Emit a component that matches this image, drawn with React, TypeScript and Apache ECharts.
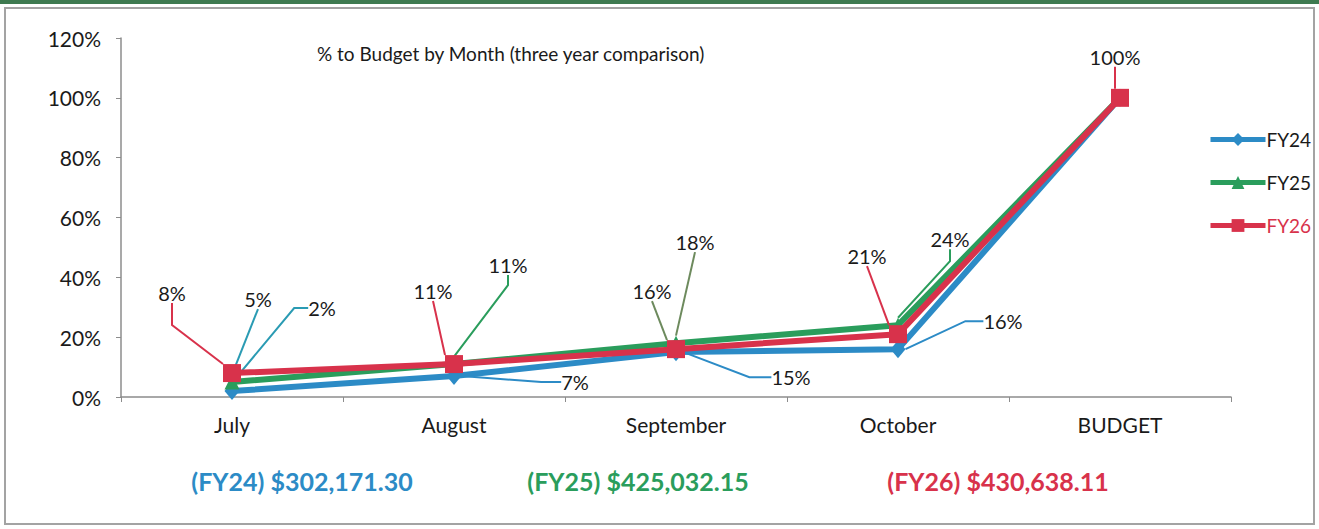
import React, { useEffect, useRef } from "react";
import * as echarts from "echarts";

const categories = ["July", "August", "September", "October", "BUDGET"];
const fy24 = [2, 7, 15, 16, 100];
const fy25 = [5, 11, 18, 24, 100];
const fy26 = [8, 11, 16, 21, 100];
const seriesNames = ["FY24", "FY25", "FY26"];
const yMin = 0;
const yMax = 120;
const yInterval = 20;
const chartTitle = "% to Budget by Month (three year comparison)";
const totals = ["(FY24) $302,171.30", "(FY25) $425,032.15", "(FY26) $430,638.11"];

const colors = ["#2c8bc6", "#2a9d5c", "#d8324b"];
// label offsets (dx, dy) from each point, null = hidden
const labelOffsets: (number[] | null)[][] = [
  [[90, -83], [121, 6], [115, 25], [105, -28], null],
  [[26, -83], [54, -99], [19, -101], [52, -86], null],
  [[-60, -80], [-21, -73], [-24, -58], [-31, -78], [-5, -41]],
];
const leaderColors = [
  ["#2a9bb3", "#2c8bc6", "#2c8bc6", "#2c8bc6", "#2c8bc6"],
  ["#2a9bb3", "#2a9d5c", "#6d8a5d", "#2a9d5c", "#2a9d5c"],
  ["#d8324b", "#d8324b", "#6d8a5d", "#d8324b", "#d8324b"],
];
const leaderLen2 = [
  [14, 20, 22, 18, 0],
  [0, 10, 0, 12, 0],
  [22, 0, 0, 0, 0],
];

const FONT = "Lato";

export default function App() {
  const ref = useRef<HTMLDivElement>(null);
  useEffect(() => {
    document.body.style.margin = "0";
    const chart = echarts.init(ref.current!, undefined, { renderer: "svg" });
    const all = [fy24, fy25, fy26];
    const symbols = ["diamond", "triangle", "rect"];
    const symbolSizes: any[] = [[15, 18], 15, 18];
    const series = all.map((vals, si) => ({
      name: seriesNames[si],
      type: "line",
      data: vals.map((v, i) => ({
        value: v,
        label: { show: labelOffsets[si][i] !== null },
        labelLine: {
          show: labelOffsets[si][i] !== null,
          length2: leaderLen2[si][i],
          lineStyle: { color: leaderColors[si][i], width: 2 },
        },
      })),
      symbol: symbols[si],
      symbolSize: symbolSizes[si],
      showAllSymbol: true,
      lineStyle: { width: 6, color: colors[si] },
      itemStyle: { color: colors[si] },
      label: {
        show: true,
        position: "inside",
        formatter: "{c}%",
        color: "#1a1a1a",
        fontFamily: FONT,
        fontSize: 20,
      },
      labelLine: { show: true, smooth: false },
      labelLayout: (p: any) => {
        const o = labelOffsets[p.seriesIndex][p.dataIndex];
        return o ? { dx: o[0], dy: o[1] } : {};
      },
      emphasis: { disabled: true },
      z: 2 + si,
    }));

    chart.setOption({
      animation: false,
      grid: { left: 121, right: 88, top: 38, bottom: 132 },
      title: {
        text: chartTitle,
        left: 312,
        top: 39,
        textStyle: { fontFamily: FONT, fontSize: 19, fontWeight: "normal", color: "#1a1a1a" },
      },
      legend: {
        orient: "vertical",
        left: 1203,
        top: 125,
        itemWidth: 55,
        itemHeight: 16,
        itemGap: 24,
        lineStyle: { width: 5 },
        data: seriesNames.map((n, i) => ({
          name: n,
          textStyle: { color: i === 2 ? colors[2] : "#1a1a1a" },
        })),
        textStyle: { fontFamily: FONT, fontSize: 19, padding: [0, 0, 0, -4] },
      },
      xAxis: {
        type: "category",
        data: categories,
        boundaryGap: true,
        axisLine: { show: true, lineStyle: { color: "#8c8c8c", width: 1.5 } },
        axisTick: { show: true, length: 5, lineStyle: { color: "#8c8c8c" } },
        axisLabel: { color: "#1a1a1a", fontFamily: FONT, fontSize: 21, margin: 17 },
      },
      yAxis: {
        type: "value",
        min: yMin,
        max: yMax,
        interval: yInterval,
        axisLine: { show: true, lineStyle: { color: "#8c8c8c", width: 1.5 } },
        axisTick: { show: true, length: 5, lineStyle: { color: "#8c8c8c" } },
        splitLine: { show: false },
        axisLabel: { color: "#1a1a1a", fontFamily: FONT, fontSize: 21, margin: 20, formatter: "{value}%" },
      },
      graphic: [
        { type: "rect", shape: { x: 0, y: 0, width: 1319, height: 4 }, style: { fill: "#3e7a50" }, z: 10 },
        {
          type: "rect",
          shape: { x: 5, y: 8, width: 1309, height: 516 },
          style: { fill: "none", stroke: "#a3a3a3", lineWidth: 2 },
          z: 10,
        },
        ...totals.map((t, i) => ({
          type: "text",
          x: [302, 638, 998][i],
          y: 481,
          style: {
            text: t,
            fill: colors[i],
            font: `bold 25px ${FONT}`,
            textAlign: "center",
            textVerticalAlign: "middle",
          },
        })),
      ],
      series,
    });
    return () => chart.dispose();
  }, []);
  return <div ref={ref} style={{ width: 1319, height: 529 }} />;
}
